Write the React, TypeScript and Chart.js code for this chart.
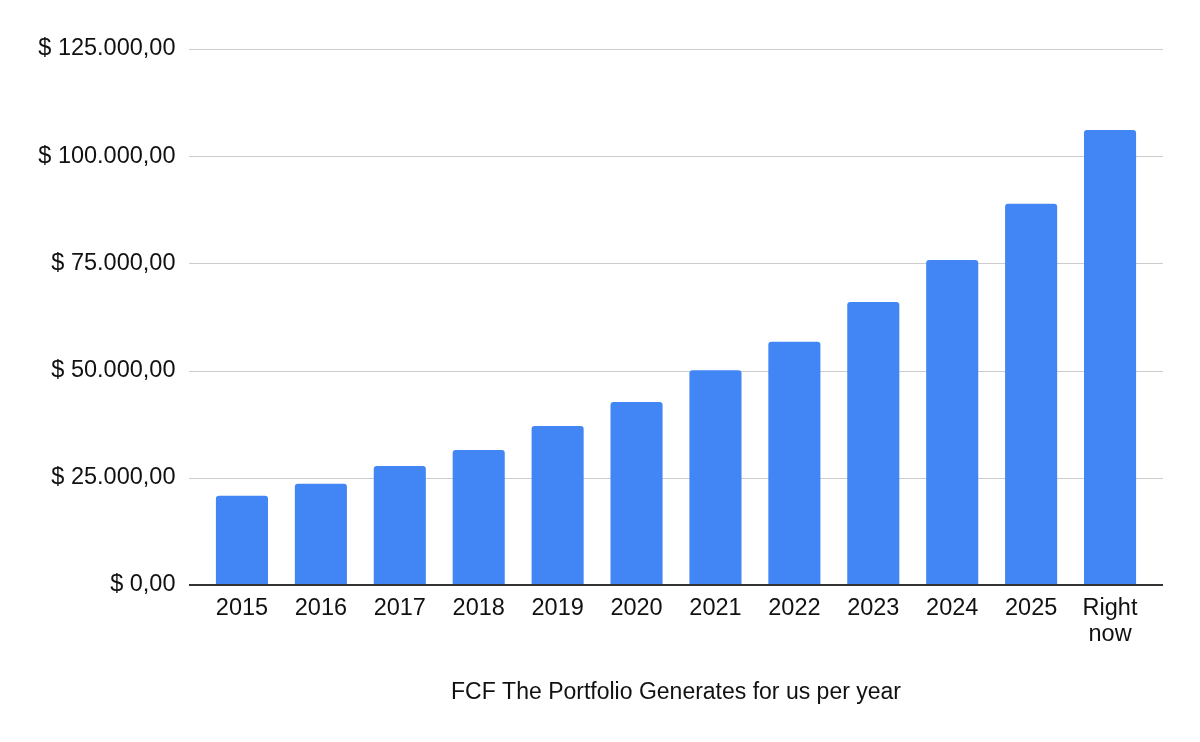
import Chart from 'chart.js/auto'
import { useEffect, useRef } from 'react'

const years = ['2015', '2016', '2017', '2018', '2019', '2020', '2021', '2022', '2023', '2024', '2025', ['Right', 'now']]
const fcf = [20800, 23600, 27750, 31500, 37100, 42700, 50100, 56700, 66000, 75800, 88900, 106100]
const yTicks = [0, 25000, 50000, 75000, 100000, 125000]

const FONT = '"Liberation Sans", Arial, sans-serif'

const fmt = (v: number) => {
  const s = Math.round(v).toString().replace(/\B(?=(\d{3})+(?!\d))/g, '.')
  return '$ ' + s + ',00'
}

// google-style gridlines that run a bit past the bars on both sides
const gridPlugin = {
  id: 'sheetGrid',
  beforeDatasetsDraw(chart: any) {
    const { ctx, chartArea, scales } = chart
    const ext = 13.5
    ctx.save()
    ctx.strokeStyle = '#cccccc'
    ctx.lineWidth = 1
    yTicks.forEach((t) => {
      if (t === 0) return
      const y = Math.round(scales.y.getPixelForValue(t)) + 0.5
      ctx.beginPath()
      ctx.moveTo(chartArea.left - ext, y)
      ctx.lineTo(chartArea.right + ext, y)
      ctx.stroke()
    })
    ctx.restore()
  },
  afterDatasetsDraw(chart: any) {
    const { ctx, chartArea, scales } = chart
    const ext = 13.5
    const y = scales.y.getPixelForValue(0)
    ctx.save()
    ctx.strokeStyle = '#333333'
    ctx.lineWidth = 2
    ctx.beginPath()
    ctx.moveTo(chartArea.left - ext, y)
    ctx.lineTo(chartArea.right + ext, y)
    ctx.stroke()
    ctx.restore()
  },
}

const FcfChart = () => {
  const canvasRef = useRef<HTMLCanvasElement>(null)
  const chartRef = useRef<Chart | null>(null)

  useEffect(() => {
    document.body.style.margin = '0'
    if (canvasRef.current) {
      chartRef.current = new Chart(canvasRef.current, {
        type: 'bar',
        data: {
          labels: years as any,
          datasets: [
            {
              label: 'FCF',
              data: fcf,
              backgroundColor: '#4285f4',
              borderRadius: { topLeft: 3, topRight: 3 },
              borderSkipped: 'bottom',
              barPercentage: 0.66,
              categoryPercentage: 1,
            },
          ],
        },
        options: {
          animation: false,
          responsive: false,
          layout: { padding: { top: 49, right: 50.5, left: 0, bottom: 0 } },
          scales: {
            y: {
              min: 0,
              max: 125000,
              afterBuildTicks: (axis: any) => {
                axis.ticks = yTicks.map((v) => ({ value: v }))
              },
              afterFit: (axis: any) => {
                axis.width = 202.5
              },
              grid: { display: false, drawTicks: false },
              border: { display: false },
              ticks: {
                padding: 27,
                color: '#111111',
                font: { family: FONT, size: 23.5 },
                callback: (v: any) => fmt(Number(v)),
              },
            },
            x: {
              grid: { display: false, drawTicks: false },
              border: { display: false },
              afterFit: (axis: any) => {
                axis.height = 157
              },
              ticks: {
                padding: 11,
                color: '#111111',
                maxRotation: 0,
                autoSkip: false,
                font: { family: FONT, size: 23.5, lineHeight: 1.08 },
              },
              title: {
                display: true,
                text: 'FCF The Portfolio Generates for us per year',
                color: '#111111',
                font: { family: FONT, size: 23, lineHeight: 1.2 },
                padding: { top: 30, bottom: 36 },
              },
            },
          },
          plugins: {
            legend: { display: false },
            tooltip: { enabled: false },
          },
        },
        plugins: [gridPlugin],
      })
    }
    return () => {
      if (chartRef.current) {
        chartRef.current.destroy()
      }
    }
  }, [])

  return (
    <div style={{ position: 'absolute', left: 0, top: 0, width: 1200, height: 742, background: '#fff' }}>
      <canvas ref={canvasRef} width={1200} height={742}></canvas>
    </div>
  )
}

export default function App() {
  return <FcfChart />
}
